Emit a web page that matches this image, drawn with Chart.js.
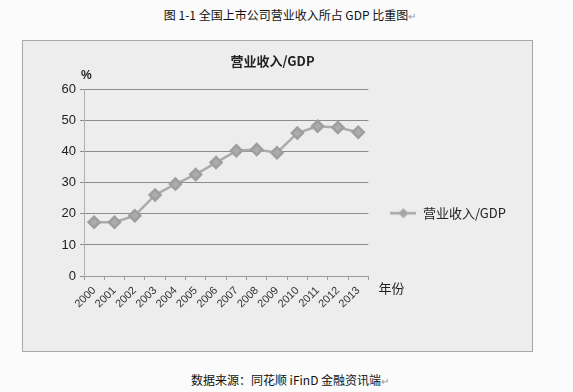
<!DOCTYPE html>
<html>
<head>
<meta charset="utf-8">
<script src="https://cdn.jsdelivr.net/npm/chart.js@4"></script>
<style>
  body { margin: 0; width: 573px; height: 392px; background: #fbfbfb; position: relative; overflow: hidden;
         font-family: "Noto Sans CJK SC", sans-serif; }
  .cap { position: absolute; left: 0; width: 580px; text-align: center; font-size: 12px; color: #111; }
  .cap span { color: #999; font-size: 10px; }
  #box { position: absolute; left: 22px; top: 40px; width: 509px; height: 310px;
         border: 1px solid #a8a8a8; background: #ededed; }
</style>
</head>
<body>
<div class="cap" style="top:6px">图 1-1 全国上市公司营业收入所占 GDP 比重图<span>↵</span></div>
<div id="box"><canvas id="myChart" width="509" height="310"></canvas></div>
<div class="cap" style="top:371px">数据来源：同花顺 iFinD 金融资讯端<span>↵</span></div>
<script>
const years = ['2000', '2001', '2002', '2003', '2004', '2005', '2006',
  '2007', '2008', '2009', '2010', '2011', '2012', '2013'];
const ratio = [17.3, 17.3, 19.4, 26.1, 29.6, 32.7, 36.5, 40.3, 40.7, 39.7, 46.0, 48.2, 47.8, 46.3];
const yTicks = [0, 10, 20, 30, 40, 50, 60];
const seriesName = '营业收入/GDP';

// legend sample: line with diamond
const legendImg = document.createElement('canvas');
legendImg.width = 26; legendImg.height = 12;
const lc = legendImg.getContext('2d');
lc.strokeStyle = '#a6a6a6'; lc.lineWidth = 2.5;
lc.beginPath(); lc.moveTo(0, 6); lc.lineTo(26, 6); lc.stroke();
lc.fillStyle = '#a6a6a6';
lc.beginPath(); lc.moveTo(13, 1); lc.lineTo(18, 6); lc.lineTo(13, 11); lc.lineTo(8, 6); lc.closePath(); lc.fill();

const axisText = {
  id: 'axisText',
  afterDraw(chart) {
    const c = chart.ctx, a = chart.chartArea;
    c.save();
    c.fillStyle = '#222';
    c.font = 'bold 12px "Liberation Sans"';
    c.textAlign = 'left'; c.textBaseline = 'middle';
    c.fillText('%', a.left - 3, a.top - 14);
    c.font = '13px "Noto Sans CJK SC"';
    c.fillText('年份', a.right + 10, a.bottom + 12);
    c.restore();
  }
};

function draw() {
  const ctx = document.getElementById('myChart').getContext('2d');
  new Chart(ctx, {
    type: 'line',
    data: {
      labels: years,
      datasets: [{
        label: seriesName,
        data: ratio,
        borderColor: '#ababab',
        backgroundColor: '#a6a6a6',
        borderWidth: 2.5,
        pointStyle: 'rectRot',
        pointRadius: 5.5,
        pointBorderColor: '#9e9e9e',
        pointBackgroundColor: '#acacac',
        tension: 0
      }]
    },
    options: {
      responsive: false,
      animation: false,
      layout: { padding: { left: 6, right: 16, top: 0, bottom: 4 } },
      scales: {
        x: {
          offset: true,
          grid: { display: true, drawOnChartArea: false, offset: true, tickLength: 4, color: '#9a9a9a' },
          border: { color: '#9a9a9a' },
          ticks: { color: '#333', font: { family: 'Liberation Sans', size: 11 }, autoSkip: false,
                   maxRotation: 45, minRotation: 45, padding: 4 },
          afterFit(s) { s.height = 71; }
        },
        y: {
          min: 0, max: 60,
          afterBuildTicks(s) { s.ticks = yTicks.map(v => ({ value: v })); },
          grid: { color: '#8c8c8c', lineWidth: 1, tickLength: 4 },
          border: { color: '#b0b0b0' },
          ticks: { color: '#222', font: { family: 'Liberation Sans', size: 13 }, padding: 4 },
          afterFit(s) { s.width = 55; }
        }
      },
      plugins: {
        title: {
          display: true, text: seriesName, color: '#222',
          font: { family: 'Noto Sans CJK SC', size: 13, weight: 'bold' },
          padding: { top: 12, bottom: 21 }
        },
        legend: {
          position: 'right',
          maxWidth: 220,
          title: { display: true, text: '', font: { size: 12 }, padding: 12 },
          labels: {
            usePointStyle: true, pointStyle: legendImg, pointStyleWidth: 26,
            color: '#222', font: { family: 'Noto Sans CJK SC', size: 13 }, padding: 22
          }
        },
        tooltip: { enabled: false }
      }
    },
    plugins: [axisText]
  });
}

document.fonts.load('13px "Noto Sans CJK SC"', seriesName).then(draw, draw);
</script>
</body>
</html>
